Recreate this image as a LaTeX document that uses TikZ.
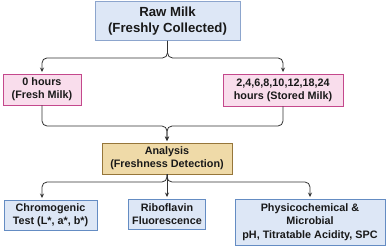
\documentclass[tikz,border=0pt]{standalone}
\usepackage{fontspec}
\setmainfont{Liberation Sans}
\usepackage{xcolor}
\usetikzlibrary{arrows.meta,positioning}
\definecolor{corazul}{RGB}{221,231,246}
\definecolor{corazulborda}{RGB}{140,165,205}
\definecolor{corazulescuro}{RGB}{100,140,195}
\definecolor{corrosa}{RGB}{249,221,236}
\definecolor{corrosaborda}{RGB}{196,72,140}
\definecolor{corbege}{RGB}{239,218,168}
\definecolor{corbegeborda}{RGB}{150,118,58}
\definecolor{corlinha}{RGB}{50,50,50}

\begin{document}
\begin{tikzpicture}[
  x=1pt, y=1pt,
  caixa/.style={rectangle, align=center, inner sep=1pt, line width=0.9pt,
                font=\bfseries\fontsize{10.8}{13.2}\selectfont, text=black!90},
  seta/.style={draw=corlinha, line width=0.8pt, rounded corners=5pt,
               shorten >=1.5pt, -{Stealth[length=4.5pt,width=4pt]}}
]
  \useasboundingbox (0,0) rectangle (387,-247);

  \node[caixa, fill=corazul, draw=corazulborda, minimum width=145, minimum height=39,
        font=\bfseries\fontsize{13.2}{15.5}\selectfont]
    (leite) at (167.5,-21) {Raw Milk\\(Freshly Collected)};
  \node[caixa, fill=corrosa, draw=corrosaborda, minimum width=78, minimum height=31]
    (fresco) at (42,-89.5) {0 hours\\(Fresh Milk)};
  \node[caixa, fill=corrosa, draw=corrosaborda, minimum width=120, minimum height=32]
    (armazenado) at (283,-90) {2,4,6,8,10,12,18,24\\hours (Stored Milk)};
  \node[caixa, fill=corbege, draw=corbegeborda, minimum width=130, minimum height=31]
    (analise) at (167,-158.5) {Analysis\\(Freshness Detection)};
  \node[caixa, fill=corazul, draw=corazulescuro, minimum width=93, minimum height=30]
    (cromo) at (50.5,-215) {Chromogenic\\Test (L*, a*, b*)};
  \node[caixa, fill=corazul, draw=corazulescuro, minimum width=77, minimum height=30]
    (ribo) at (167,-214) {Riboflavin\\Fluorescence};
  \node[caixa, fill=corazul, draw=corazulescuro, minimum width=150, minimum height=46]
    (fisico) at (310,-222) {Physicochemical \&\\Microbial\\pH, Titratable Acidity, SPC};

  % leite cru -> amostras
  \draw[seta] (leite.south) -- ++(0,-17) -| (fresco.north);
  \draw[seta] (leite.south) -- ++(0,-17) -| (armazenado.north);

  % amostras -> analise
  \coordinate (juncao) at (analise.north |- 0,-126);
  \draw[seta] (fresco.south) |- (juncao) -- (analise.north);
  \draw[seta] (armazenado.south) |- (juncao) -- (analise.north);

  % analise -> metodos
  \coordinate (ramo) at (analise.south |- 0,-182);
  \draw[seta] (analise.south) -- (ramo) -| (cromo.north -| fresco.south);
  \draw[seta] (analise.south) -- (ribo.north);
  \draw[seta] (analise.south) -- (ramo) -| (fisico.north);
\end{tikzpicture}
\end{document}
